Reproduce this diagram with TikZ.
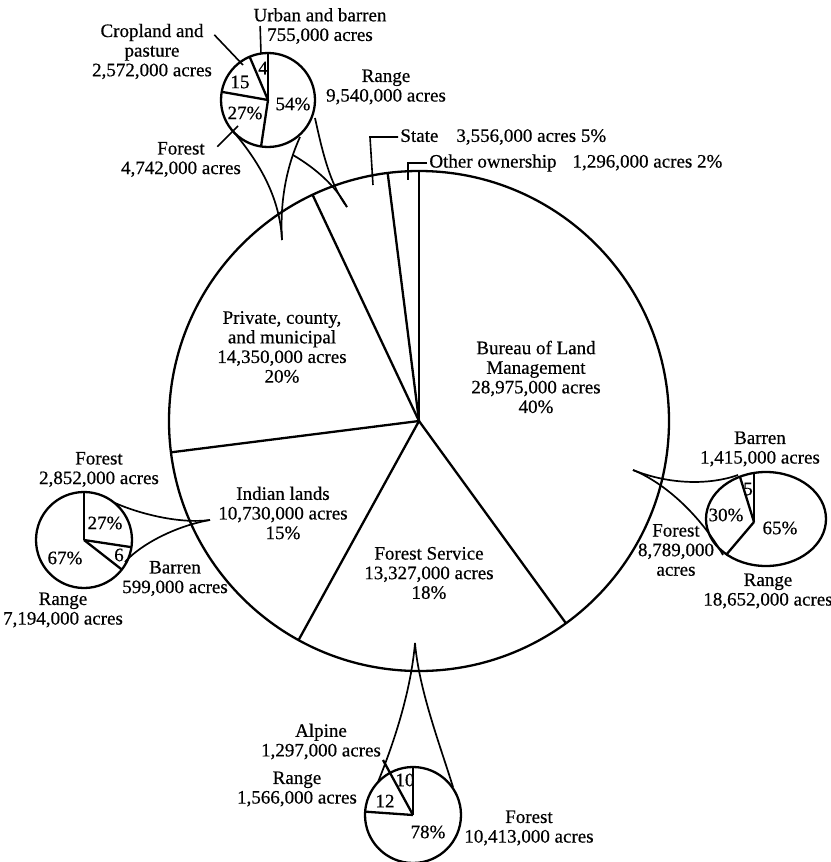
\documentclass[tikz,border=0pt]{standalone}
\usepackage{fontspec}
\setmainfont{Liberation Serif}[FakeBold=0.5]
\tikzset{
  pieline/.style={line width=1.15pt},
  zoomline/.style={line width=0.85pt},
  leader/.style={line width=0.8pt},
  lbl/.style={align=center,inner sep=1pt,font=\fontsize{9.5}{9.8}\selectfont},
}
\begin{document}
\begin{tikzpicture}[x=0.5pt,y=0.5pt]
    \useasboundingbox (0,0) rectangle (830,-862) ;
    \coordinate (c) at (419,-421) ;
    \draw[pieline] (c) circle[radius=250] ;
    \foreach \a in {90,97.2,115.2,-172.8,-118.8,-54}
      \draw[pieline] (c) -- ++(\a:250) ;
    \node[lbl] (blm) at (536,-377) {Bureau of Land\\Management\\28,975,000 acres\\40\%} ;
    \node[lbl] (private) at (282,-347) {Private, county,\\and municipal\\14,350,000 acres\\20\%} ;
    \node[lbl] (indian) at (283,-513) {Indian lands\\10,730,000 acres\\15\%} ;
    \node[lbl] (fs) at (429,-573) {Forest Service\\13,327,000 acres\\18\%} ;
    \node[lbl,anchor=west] (state) at (398,-137) {State\hspace{9pt}3,556,000 acres 5\%} ;
    \node[lbl,anchor=west] (other) at (427,-163) {Other ownership\hspace{8pt}1,296,000 acres 2\%} ;
    \coordinate (statetip) at (373,-185) ;
    \coordinate (othertip) at (408,-180) ;
    \draw[leader] (state.west) -- ++(-28,0) -- (statetip) ;
    \draw[leader] (other.west) -- ++(-19,0) -- (othertip) ;
    % private, county, and municipal
    \coordinate (ps) at (268,-100) ;
    \draw[pieline] (ps) circle[radius=47] ;
    \foreach \a in {90,113,170,-98.5}
      \draw[pieline] (ps) -- ++(\a:47) ;
    \node[lbl] (pn4) at (263,-68) {4} ;
    \node[lbl] (pn15) at (240,-82) {15} ;
    \node[lbl] (pn27) at (245,-113) {27\%} ;
    \node[lbl] (pn54) at (293,-104) {54\%} ;
    \node[lbl] (purban) at (320,-26) {Urban and barren\\755,000 acres} ;
    \node[lbl] (pcrop) at (152,-51.5) {Cropland and\\pasture\\2,572,000 acres} ;
    \node[lbl] (prange) at (386,-87) {Range\\9,540,000 acres} ;
    \node[lbl] (pforest) at (181,-159.5) {Forest\\4,742,000 acres} ;
    \coordinate (urbanend) at (261,-54) ;
    \coordinate (cropend) at (243,-65) ;
    \coordinate (forestend) at (238,-126) ;
    \draw[leader] ([xshift=4.5pt]purban.west) -- (urbanend) ;
    \draw[leader] (pcrop.15) -- (cropend) ;
    \draw[leader] ([xshift=-13pt,yshift=-3.5pt]pforest.north east) -- (forestend) ;
    \draw[zoomline] (232,-130) .. controls (262,-165) and (280,-200) .. (282,-240) ;
    \draw[zoomline] (300,-137) .. controls (285,-170) and (280,-205) .. (282,-240) ;
    \draw[zoomline] (293,-155) .. controls (315,-168) and (335,-185) .. (347,-207) ;
    \draw[zoomline] (315,-118) .. controls (322,-150) and (330,-185) .. (347,-207) ;
    % indian lands
    \coordinate (is) at (84,-540) ;
    \draw[pieline] (is) circle[radius=48] ;
    \foreach \a in {90,-8.6,-38}
      \draw[pieline] (is) -- ++(\a:48) ;
    \node[lbl] (in27) at (105,-523) {27\%} ;
    \node[lbl] (in6) at (119,-555) {6} ;
    \node[lbl] (in67) at (65,-558) {67\%} ;
    \node[lbl] (iforest) at (99,-469.5) {Forest\\2,852,000 acres} ;
    \node[lbl] (ibarren) at (175,-578.5) {Barren\\599,000 acres} ;
    \node[lbl] (irange) at (63,-610) {Range\\7,194,000 acres} ;
    \draw[zoomline] (115,-503) .. controls (140,-514) and (180,-524) .. (210,-520) ;
    \draw[zoomline] (125,-562) .. controls (140,-545) and (175,-526) .. (210,-520) ;
    % bureau of land management
    \coordinate (bs) at (766,-519) ;
    \coordinate (bhub) at (754,-522) ;
    \draw[pieline] (bs) ellipse[x radius=60,y radius=47] ;
    \draw[pieline] (bhub) -- (754,-473) ;
    \draw[pieline] (bhub) -- (740,-477) ;
    \draw[pieline] (bhub) -- (726,-555) ;
    \node[lbl] (bn5) at (748,-489) {5} ;
    \node[lbl] (bn30) at (726,-515) {30\%} ;
    \node[lbl] (bn65) at (780,-528) {65\%} ;
    \node[lbl] (bbarren) at (760,-449) {Barren\\1,415,000 acres} ;
    \node[lbl] (bforest) at (676,-550) {Forest\\8,789,000\\acres} ;
    \node[lbl] (brange) at (768,-591) {Range\\18,652,000 acres} ;
    \draw[zoomline] (633,-470) .. controls (670,-485) and (710,-485) .. (738,-475) ;
    \draw[zoomline] (633,-470) .. controls (665,-483) and (700,-515) .. (723,-555) ;
    % forest service
    \coordinate (fsub) at (413,-815) ;
    \draw[pieline] (fsub) circle[radius=48] ;
    \foreach \a in {90,176}
      \draw[pieline] (fsub) -- ++(\a:48) ;
    \coordinate (alpineend) at (383,-760) ;
    \draw[pieline] (fsub) -- (alpineend) ;
    \node[lbl] (fn10) at (405,-780) {10} ;
    \node[lbl] (fn12) at (385,-801) {12} ;
    \node[lbl] (fn78) at (428,-832) {78\%} ;
    \node[lbl] (falpine) at (321,-741.5) {Alpine\\1,297,000 acres} ;
    \node[lbl] (frange) at (297,-789) {Range\\1,566,000 acres} ;
    \node[lbl] (fforest) at (529,-828) {Forest\\10,413,000 acres} ;
    \draw[zoomline] (415,-643) .. controls (411,-690) and (395,-740) .. (378,-782) ;
    \draw[zoomline] (415,-643) .. controls (419,-690) and (440,-745) .. (453,-787) ;
\end{tikzpicture}
\end{document}
